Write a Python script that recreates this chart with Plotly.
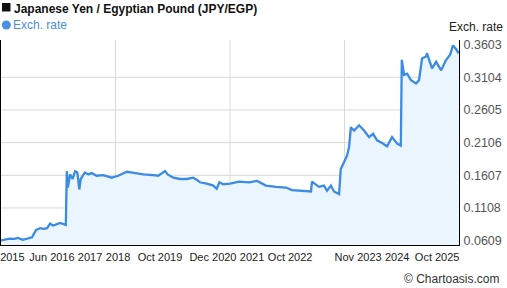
import plotly.graph_objects as go

# ---- data ----
dates = [
    "2015-05-27", "2015-07-01", "2015-08-05", "2015-09-10", "2015-10-09", "2015-11-18",
    "2015-12-20", "2016-01-30", "2016-03-02", "2016-04-04", "2016-05-01", "2016-05-30",
    "2016-06-23", "2016-07-15", "2016-08-02", "2016-09-11", "2016-10-27",
    "2016-11-04", "2016-11-12", "2016-11-30", "2016-12-21", "2017-01-09", "2017-01-27",
    "2017-02-12", "2017-02-23", "2017-03-29", "2017-04-25", "2017-05-22", "2017-07-01",
    "2017-08-23", "2017-09-25", "2017-10-29", "2017-12-21", "2018-02-27", "2018-04-01",
    "2018-05-04", "2018-07-09", "2018-09-27", "2018-11-06", "2018-12-30", "2019-01-20",
    "2019-03-07", "2019-04-29", "2019-06-22", "2019-08-13", "2019-09-10",
    "2019-10-06", "2019-11-29", "2020-01-21", "2020-02-17", "2020-03-09", "2020-04-10",
    "2020-06-03", "2020-08-14", "2020-11-02", "2021-01-06", "2021-03-17", "2021-06-06",
    "2021-08-25", "2021-10-12", "2022-01-01", "2022-03-13", "2022-03-21", "2022-05-16",
    "2022-06-25", "2022-07-19", "2022-08-20", "2022-09-13", "2022-10-24", "2022-11-06",
    "2022-12-03", "2022-12-27", "2023-01-12", "2023-01-26", "2023-02-21", "2023-04-02",
    "2023-05-12", "2023-06-21", "2023-07-23", "2023-08-24", "2023-10-03", "2023-11-12",
    "2023-12-22", "2024-02-01", "2024-03-01", "2024-03-09", "2024-03-27", "2024-04-20",
    "2024-05-22", "2024-07-01", "2024-07-25", "2024-08-18", "2024-09-19", "2024-09-27",
    "2024-11-06", "2024-12-09", "2025-01-18", "2025-02-27", "2025-03-31", "2025-04-23",
    "2025-05-15", "2025-06-08",
]
rates = [
    0.0613, 0.0625, 0.0640, 0.0635, 0.0650, 0.0620,
    0.0640, 0.0660, 0.0770, 0.0800, 0.0790, 0.0800,
    0.0870, 0.0840, 0.0850, 0.0880, 0.0850,
    0.1670, 0.1420, 0.1620, 0.1550, 0.1670, 0.1650,
    0.1390, 0.1550, 0.1650, 0.1620, 0.1640, 0.1600,
    0.1610, 0.1590, 0.1570, 0.1600, 0.1660, 0.1650,
    0.1640, 0.1620, 0.1610, 0.1600, 0.1670, 0.1620,
    0.1570, 0.1550, 0.1550, 0.1570, 0.1540,
    0.1500, 0.1480, 0.1450, 0.1400, 0.1500, 0.1470,
    0.1480, 0.1510, 0.1500, 0.1520, 0.1450, 0.1430,
    0.1420, 0.1380, 0.1370, 0.1360, 0.1510, 0.1430,
    0.1450, 0.1370, 0.1450, 0.1360, 0.1320, 0.1700,
    0.1810, 0.1910, 0.2040, 0.2340, 0.2290, 0.2370,
    0.2290, 0.2190, 0.2240, 0.2140, 0.2100, 0.2050,
    0.2190, 0.2090, 0.2060, 0.3370, 0.3140, 0.3160,
    0.3060, 0.3010, 0.3060, 0.3390, 0.3420, 0.3470,
    0.3240, 0.3340, 0.3210, 0.3370, 0.3450, 0.3590,
    0.3540, 0.3470,
]
y_ticks = [0.0609, 0.1108, 0.1607, 0.2106, 0.2605, 0.3104, 0.3603]
x_tick_dates = ["2015-08-26", "2016-07-08", "2017-05-09", "2017-12-19", "2018-11-20",
                "2020-01-18", "2020-11-26", "2021-09-27", "2023-03-25", "2024-02-01",
                "2024-12-17"]
x_tick_labels = ["2015", "Jun 2016", "2017", "2018", "Oct 2019", "Dec 2020", "2021",
                 "Oct 2022", "Nov 2023", "2024", "Oct 2025"]

LINE = "#3b8be2"
FILL = "#ebf5fe"
GRID = "#d9d9d9"
LEGEND_BLUE = "#4a90e2"
FONT = "Arial, Liberation Sans, sans-serif"

# plot area in pixels: x 1..459, y 40..245
PW, PH = 458.0, 205.0
def px(x):
    return (x - 1) / PW
def py(y):
    return (245 - y) / PH

fig = go.Figure()
fig.add_trace(go.Scatter(
    x=dates, y=rates, mode="lines",
    line=dict(color=LINE, width=2.3),
    fill="tozeroy", fillcolor=FILL,
    hoverinfo="skip", showlegend=False,
))

shapes = []
for t in y_ticks[1:-1]:
    shapes.append(dict(type="line", xref="paper", x0=0, x1=1, yref="y", y0=t, y1=t,
                       line=dict(color=GRID, width=1), layer="below"))
for p in (0.25, 0.5, 0.75):
    shapes.append(dict(type="line", xref="paper", x0=p, x1=p, yref="paper", y0=0, y1=1,
                       line=dict(color=GRID, width=1), layer="below"))
# title square and legend dot
shapes.append(dict(type="rect", xref="paper", yref="paper",
                   x0=px(2), x1=px(10.5), y0=py(11.5), y1=py(3),
                   fillcolor="#111", line=dict(width=0)))
shapes.append(dict(type="circle", xref="paper", yref="paper",
                   x0=px(1.8), x1=px(10.8), y0=py(29.5), y1=py(20.5),
                   fillcolor=LEGEND_BLUE, line=dict(width=0)))

fig.update_layout(
    width=507, height=288,
    margin=dict(l=1, r=48, t=40, b=43),
    paper_bgcolor="white", plot_bgcolor="white",
    font=dict(family=FONT, size=11, color="#222"),
    shapes=shapes,
    xaxis=dict(
        type="date", range=["2015-05-27", "2025-06-10"],
        showgrid=False, zeroline=False,
        showline=True, linecolor="black", linewidth=1,
        tickvals=x_tick_dates, ticktext=x_tick_labels,
        ticks="outside", ticklen=2, tickcolor="rgba(0,0,0,0)",
        tickfont=dict(size=11, color="#222"),
    ),
    yaxis=dict(
        side="right", range=[0.0542, 0.3673],
        showgrid=False, zeroline=False,
        showline=True, mirror=True, linecolor="black", linewidth=1,
        tickvals=y_ticks, ticktext=[f"{v:.4f}" for v in y_ticks],
        ticks="outside", ticklen=1, tickcolor="rgba(0,0,0,0)",
        tickfont=dict(size=12.5, color="#555"),
    ),
    annotations=[
        dict(xref="paper", yref="paper", x=px(12), y=py(8.5),
             xanchor="left", yanchor="middle", showarrow=False,
             text="<b>Japanese Yen / Egyptian Pound (JPY/EGP)</b>",
             font=dict(size=12, color="#111")),
        dict(xref="paper", yref="paper", x=px(11), y=py(25.5),
             xanchor="left", yanchor="middle", showarrow=False,
             text="Exch. rate",
             font=dict(size=12, color=LEGEND_BLUE)),
        dict(xref="paper", yref="paper", x=px(505), y=py(27),
             xanchor="right", yanchor="middle", showarrow=False,
             text="Exch. rate", font=dict(size=12, color="#222")),
        dict(xref="paper", yref="paper", x=px(502), y=py(279),
             xanchor="right", yanchor="middle", showarrow=False,
             text="© Chartoasis.com", font=dict(size=12, color="#333")),
    ],
)

fig.write_html("out.html")
